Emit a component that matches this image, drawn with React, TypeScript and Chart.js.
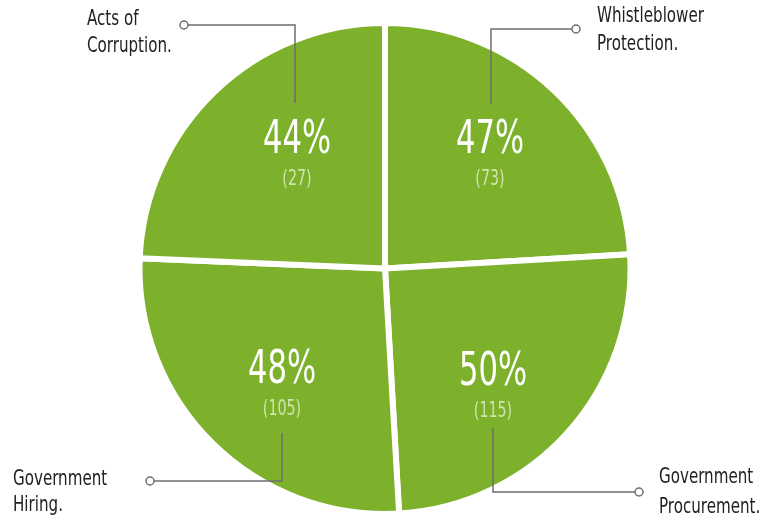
import React, { useEffect, useRef } from "react";
import { Chart, registerables } from "chart.js";

Chart.register(...registerables);

// Slices in clockwise order starting from 12 o'clock
const categories = ["Whistleblower Protection.", "Government Procurement.", "Government Hiring.", "Acts of Corruption."];
// Angular share of each slice (degrees)
const sliceShares = [86.7, 90.0, 95.7, 87.6];
const percentLabels = ["47%", "50%", "48%", "44%"];
const countLabels = ["(73)", "(115)", "(105)", "(27)"];
const calloutLines = [
  ["Whistleblower", "Protection."],
  ["Government", "Procurement."],
  ["Government", "Hiring."],
  ["Acts of", "Corruption."],
];

const GREEN = "#7db12c";
const FONT = "'DejaVu Sans Condensed', 'Liberation Sans Narrow', sans-serif";

function drawScaledText(ctx: CanvasRenderingContext2D, text: string, x: number, y: number, sx: number, align: "left" | "center") {
  ctx.save();
  ctx.translate(x, y);
  ctx.scale(sx, 1);
  ctx.textAlign = align;
  ctx.fillText(text, 0, 0);
  ctx.restore();
}

// label block offsets from the pie centre
const labelOffsets = [
  [105, -113],
  [108, 119],
  [-103, 117],
  [-88, -113],
];

// callout geometry: anchor inside slice, corner, circle end, text position
const callouts = [
  { a: [491, 104], c: [491, 29], e: [576, 29], tx: 597, ty: [17, 45] },
  { a: [493, 428], c: [493, 492], e: [639, 492], tx: 659, ty: [478, 508] },
  { a: [282, 433], c: [282, 481], e: [150, 481], tx: 13, ty: [480, 506] },
  { a: [295, 103], c: [295, 25], e: [184, 25], tx: 87, ty: [20, 47] },
];

const labelPlugin = {
  id: "pieLabels",
  afterDatasetsDraw(chart: any) {
    const ctx: CanvasRenderingContext2D = chart.ctx;
    const meta = chart.getDatasetMeta(0);
    ctx.save();
    ctx.textBaseline = "middle";
    meta.data.forEach((arc: any, i: number) => {
      const { x, y } = arc.getProps(["x", "y"], true);
      const bx = x + labelOffsets[i][0];
      const by = y + labelOffsets[i][1];
      ctx.fillStyle = "#ffffff";
      ctx.font = `300 46px ${FONT}`;
      drawScaledText(ctx, percentLabels[i], bx, by - 14, 0.74, "center");
      ctx.fillStyle = "#cfe3ad";
      ctx.font = `300 22px ${FONT}`;
      drawScaledText(ctx, countLabels[i], bx, by + 24, 0.72, "center");
    });
    callouts.forEach((c, i) => {
      ctx.strokeStyle = "#6e6e6e";
      ctx.lineWidth = 1.5;
      ctx.beginPath();
      ctx.moveTo(c.a[0], c.a[1]);
      ctx.lineTo(c.c[0], c.c[1]);
      const dir = c.e[0] > c.c[0] ? 1 : -1;
      ctx.lineTo(c.e[0] - dir * 4, c.e[1]);
      ctx.stroke();
      ctx.beginPath();
      ctx.arc(c.e[0], c.e[1], 4, 0, Math.PI * 2);
      ctx.fillStyle = "#ffffff";
      ctx.fill();
      ctx.stroke();
      ctx.fillStyle = "#222222";
      ctx.font = `400 21px ${FONT}`;
      calloutLines[i].forEach((t, j) => drawScaledText(ctx, t, c.tx, c.ty[j], 0.8, "left"));
    });
    ctx.restore();
  },
};

export default function App() {
  const ref = useRef<HTMLCanvasElement>(null);
  useEffect(() => {
    if (!ref.current) return;
    const chart = new Chart(ref.current, {
      type: "pie",
      data: {
        labels: categories,
        datasets: [
          {
            data: sliceShares,
            backgroundColor: GREEN,
            borderColor: "#ffffff",
            borderWidth: 6,
          },
        ],
      },
      options: {
        responsive: false,
        animation: false,
        devicePixelRatio: 1,
        layout: { padding: { top: 20, bottom: 4, left: 136, right: 130 } },
        plugins: { legend: { display: false }, tooltip: { enabled: false } },
      },
      plugins: [labelPlugin],
    });
    return () => chart.destroy();
  }, []);
  return (
    <div style={{ position: "absolute", left: 0, top: 0, width: 764, height: 521, background: "#fff" }}>
      <canvas ref={ref} width={764} height={521} style={{ width: 764, height: 521, display: "block" }} />
    </div>
  );
}
